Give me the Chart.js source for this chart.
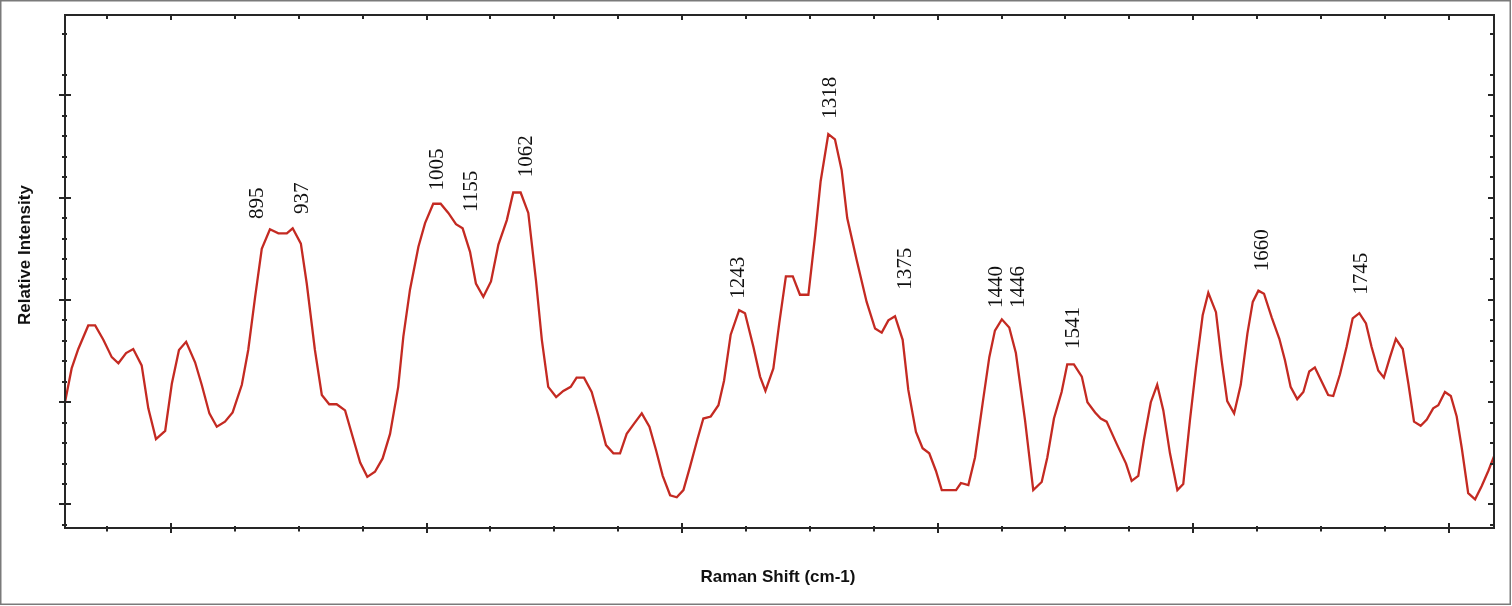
<!DOCTYPE html>
<html>
<head>
<meta charset="utf-8">
<script src="https://cdn.jsdelivr.net/npm/chart.js@4.4.1/dist/chart.umd.min.js"></script>
<style>
  html, body { margin: 0; padding: 0; background: #fff; }
  #wrap { position: relative; width: 1512px; height: 606px; }
</style>
</head>
<body>
<div id="wrap"><canvas id="chart"></canvas></div>
<script>
// ---------- Data ----------
const shift = [
  758.5, 761.1, 763.7, 767.6, 770.3, 773.5, 776.8, 779.4, 782.4, 785.2,
  788.5, 791.1, 794.1, 797.7, 800.3, 803.1, 805.9, 809.4, 812.0, 815.0,
  817.9, 821.1, 824.1, 827.7, 830.2, 832.9, 835.5, 838.7, 842.0, 845.3,
  847.6, 850.8, 853.1, 856.3, 859.0, 861.9, 864.8, 868.1, 871.1, 874.0,
  876.8, 879.8, 882.8, 885.7, 888.9, 890.9, 893.5, 896.8, 899.4, 902.6,
  905.5, 908.5, 911.5, 914.1, 917.0, 919.3, 922.2, 925.2, 928.1, 931.4,
  933.9, 936.8, 939.8, 942.8, 945.1, 947.6, 950.7, 953.5, 956.4, 958.7,
  961.6, 964.6, 967.2, 970.2, 973.1, 975.7, 978.3, 981.2, 984.2, 987.2,
  989.8, 992.4, 995.3, 997.9, 1000.5, 1003.1, 1005.9, 1008.3, 1011.2, 1014.2,
  1016.4, 1019.0, 1022.3, 1024.6, 1027.9, 1030.5, 1032.6, 1035.7, 1038.0, 1040.6,
  1043.3, 1046.1, 1049.4, 1052.0, 1054.2, 1057.2, 1059.8, 1062.4, 1064.6, 1068.3,
  1072.2, 1075.5, 1078.1, 1080.7, 1083.3, 1086.3, 1088.5, 1091.5, 1094.1, 1096.7,
  1099.3, 1101.6, 1107.2, 1109.1, 1112.0, 1114.6, 1117.6, 1120.2, 1122.4, 1125.1,
  1128.0, 1130.6, 1134.2, 1137.4, 1140.7, 1142.9, 1145.5, 1148.5, 1150.7, 1153.3,
  1156.4, 1158.6, 1161.6, 1163.8, 1166.1, 1170.1, 1173.7, 1175.9, 1178.5, 1180.7,
  1183.4, 1185.9, 1188.3, 1190.9, 1193.8, 1196.1, 1198.7, 1201.1, 1203.7, 1205.9,
  1208.9, 1211.1, 1213.3, 1216.0, 1218.6, 1221.2, 1223.3, 1225.5, 1227.7, 1230.7,
  1233.7, 1235.9, 1238.1, 1240.7, 1243.1, 1245.4, 1247.6, 1250.3, 1252.8, 1254.8,
  1257.4, 1260.0, 1262.4, 1265.0, 1267.6, 1269.8, 1272.4, 1274.6, 1277.0, 1279.3,
  1282.0, 1284.2, 1286.4, 1289.0, 1291.4, 1293.9, 1295.9, 1298.5, 1300.8, 1303.1,
  1305.1, 1307.6, 1310.3, 1312.9, 1315.5, 1317.7
];
const intensity = [
  1.00, 1.33, 1.52, 1.75, 1.75, 1.61, 1.44, 1.38, 1.48, 1.52,
  1.36, 0.94, 0.64, 0.72, 1.18, 1.51, 1.59, 1.39, 1.17, 0.89,
  0.76, 0.81, 0.90, 1.17, 1.51, 2.03, 2.50, 2.69, 2.65, 2.65,
  2.70, 2.55, 2.16, 1.51, 1.07, 0.98, 0.98, 0.92, 0.66, 0.41,
  0.27, 0.32, 0.45, 0.69, 1.15, 1.64, 2.10, 2.52, 2.75, 2.94,
  2.94, 2.85, 2.74, 2.70, 2.47, 2.16, 2.03, 2.18, 2.54, 2.78,
  3.05, 3.05, 2.85, 2.19, 1.61, 1.15, 1.05, 1.11, 1.15, 1.24,
  1.24, 1.10, 0.87, 0.58, 0.50, 0.50, 0.69, 0.79, 0.89, 0.76,
  0.53, 0.28, 0.09, 0.07, 0.14, 0.37, 0.63, 0.84, 0.86, 0.97,
  1.21, 1.66, 1.90, 1.87, 1.54, 1.25, 1.11, 1.33, 1.77, 2.23,
  2.23, 2.05, 2.05, 2.62, 3.16, 3.62, 3.57, 3.27, 2.80, 2.39,
  1.98, 1.72, 1.68, 1.80, 1.84, 1.61, 1.12, 0.71, 0.55, 0.50,
  0.33, 0.14, 0.14, 0.21, 0.19, 0.46, 0.99, 1.44, 1.70, 1.81,
  1.73, 1.48, 0.82, 0.14, 0.22, 0.46, 0.84, 1.10, 1.37, 1.37,
  1.25, 1.00, 0.90, 0.84, 0.81, 0.59, 0.40, 0.23, 0.28, 0.63,
  1.00, 1.17, 0.92, 0.50, 0.14, 0.20, 0.82, 1.34, 1.85, 2.07,
  1.88, 1.41, 1.01, 0.89, 1.17, 1.67, 1.98, 2.09, 2.06, 1.83,
  1.62, 1.41, 1.15, 1.03, 1.10, 1.30, 1.34, 1.20, 1.07, 1.06,
  1.27, 1.54, 1.82, 1.87, 1.77, 1.54, 1.31, 1.24, 1.44, 1.62,
  1.52, 1.18, 0.81, 0.77, 0.83, 0.94, 0.97, 1.10, 1.06, 0.86,
  0.55, 0.11, 0.05, 0.18, 0.33, 0.47
];

// peak labels: text, x (shift), y (intensity) where the text starts
const peakText  = ["895", "937", "1005", "1155", "1062", "1243", "1318", "1375", "1440", "1446", "1541", "1660", "1745"];
const peakShift = [833.1, 850.7, 903.5, 917.0, 938.7, 1021.4, 1057.3, 1086.8, 1122.6, 1131.2, 1152.4, 1226.7, 1265.3];
const peakLevel = [2.79, 2.84, 3.07, 2.86, 3.20, 2.01, 3.77, 2.10, 1.92, 1.92, 1.52, 2.28, 2.05];

// axis ticks (no labels shown in the reference)
const xTickValues = [775, 800, 825, 850, 875, 900, 925, 950, 975, 1000, 1025, 1050, 1075,
  1100, 1125, 1150, 1175, 1200, 1225, 1250, 1275, 1300];
const yTickValues = [-0.2, 0, 0.2, 0.4, 0.6, 0.8, 1, 1.2, 1.4, 1.6, 1.8, 2, 2.2, 2.4, 2.6,
  2.8, 3, 3.2, 3.4, 3.6, 3.8, 4, 4.2, 4.6];

const X_MIN = 758.5, X_MAX = 1317.7;
const Y_MIN = -0.23, Y_MAX = 4.785;

const xTitle = "Raman Shift (cm-1)";
const yTitle = "Relative Intensity";

// ---------- Plugins ----------
const framePlugin = {
  id: "frame",
  afterDatasetsDraw(chart) {
    const { ctx, chartArea: a, scales } = chart;
    const xs = scales.x, ys = scales.y;
    ctx.save();

    // outer picture border
    ctx.strokeStyle = "#7a7a7a";
    ctx.lineWidth = 1.5;
    ctx.strokeRect(0.75, 0.75, chart.width - 2.5, chart.height - 2.5);

    // plot box
    ctx.strokeStyle = "#262626";
    ctx.lineWidth = 2;
    ctx.strokeRect(a.left, a.top, a.right - a.left, a.bottom - a.top);

    ctx.lineWidth = 2;
    ctx.beginPath();
    xTickValues.forEach((v) => {
      const x = Math.round(xs.getPixelForValue(v));
      const major = v % 100 === 0;
      // bottom: crossing ticks
      ctx.moveTo(x, a.bottom - (major ? 5 : 2));
      ctx.lineTo(x, a.bottom + (major ? 5 : 3.5));
      // top: inward ticks
      ctx.moveTo(x, a.top);
      ctx.lineTo(x, a.top + (major ? 5 : 4));
    });
    yTickValues.forEach((v) => {
      const y = Math.round(ys.getPixelForValue(v));
      const major = Math.abs(v - Math.round(v)) < 1e-9;
      // left: crossing ticks
      ctx.moveTo(a.left - (major ? 6 : 3), y);
      ctx.lineTo(a.left + (major ? 6 : 2), y);
      // right: inward ticks
      ctx.moveTo(a.right, y);
      ctx.lineTo(a.right - (major ? 6 : 4), y);
    });
    ctx.stroke();

    // peak labels
    ctx.fillStyle = "#111";
    ctx.font = '21px "Liberation Serif", "Times New Roman", serif';
    ctx.textAlign = "left";
    ctx.textBaseline = "alphabetic";
    peakText.forEach((t, i) => {
      const x = xs.getPixelForValue(peakShift[i]);
      const y = ys.getPixelForValue(peakLevel[i]);
      ctx.save();
      ctx.translate(x + 7, y);
      ctx.rotate(-Math.PI / 2);
      ctx.fillText(t, 0, 0);
      ctx.restore();
    });

    // axis titles
    ctx.fillStyle = "#111";
    ctx.font = 'bold 17px "Liberation Sans", Arial, sans-serif';
    ctx.textAlign = "center";
    ctx.textBaseline = "middle";
    ctx.fillText(xTitle, 778, 577);
    ctx.save();
    ctx.translate(25, 255);
    ctx.rotate(-Math.PI / 2);
    ctx.fillText(yTitle, 0, 0);
    ctx.restore();

    ctx.restore();
  }
};

// ---------- Chart ----------
const points = shift.map((x, i) => ({ x, y: intensity[i] }));

new Chart(document.getElementById("chart").getContext("2d"), {
  type: "line",
  data: {
    datasets: [{
      label: "Spectrum",
      data: points,
      borderColor: "#c42a22",
      borderWidth: 2.3,
      pointRadius: 0,
      tension: 0,
      fill: false
    }]
  },
  options: {
    responsive: true,
    maintainAspectRatio: false,
    animation: false,
    layout: { padding: { left: 65, top: 15, right: 18, bottom: 78 } },
    plugins: { legend: { display: false }, tooltip: { enabled: false } },
    scales: {
      x: { type: "linear", min: X_MIN, max: X_MAX, display: false },
      y: { type: "linear", min: Y_MIN, max: Y_MAX, display: false }
    }
  },
  plugins: [framePlugin]
});
</script>
</body>
</html>
